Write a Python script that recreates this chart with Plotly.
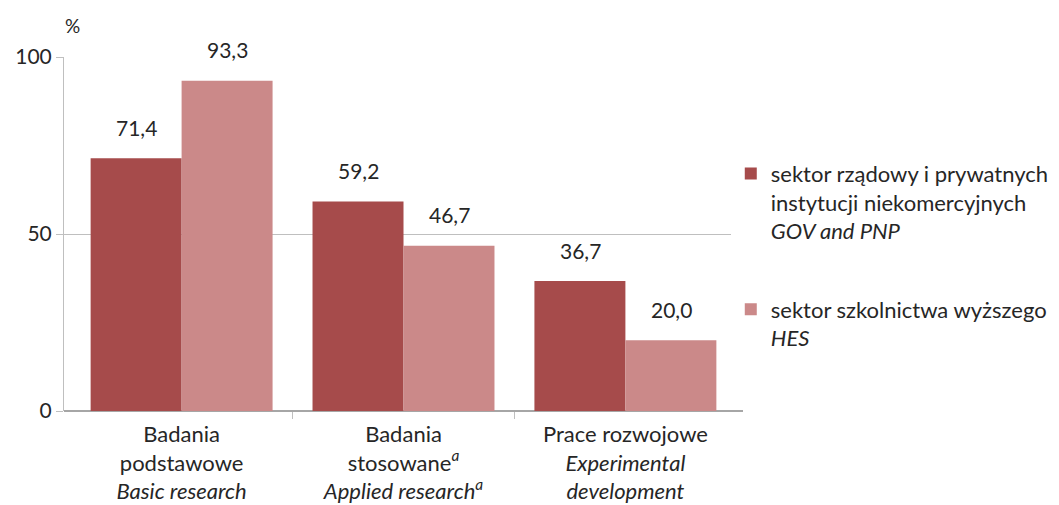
import plotly.graph_objects as go

categories = ["Badania<br>podstawowe<br><i>Basic research</i>",
              "Badania<br>stosowane<sup><i>a</i></sup><br><i>Applied research<sup>a</sup></i>",
              "Prace rozwojowe<br><i>Experimental</i><br><i>development</i>"]
series_names = ["sektor rządowy i prywatnych<br>instytucji niekomercyjnych<br><i>GOV and PNP</i>",
                "sektor szkolnictwa wyższego<br><i>HES</i>"]
gov_values = [71.4, 59.2, 36.7]
hes_values = [93.3, 46.7, 20.0]
colors = ["#A64B4B", "#CB8989"]
FONT = "Lato"
FS = 22

fig = go.Figure()
for k, (name, vals, col) in enumerate(zip(series_names, [gov_values, hes_values], colors)):
    fig.add_trace(go.Bar(
        x=list(range(3)), y=vals, name=name, marker_color=col, marker_line_width=0,
        legendgroup=f"g{k}",
    ))

# data labels above bars
for vals, shift in [(gov_values, -45), (hes_values, 46)]:
    for j, v in enumerate(vals):
        fig.add_annotation(x=j, y=v, xshift=shift, yshift=31, text=f"{v:.1f}".replace(".", ","),
                           showarrow=False, font=dict(size=FS - 1, color="#262626", family=FONT),
                           yanchor="middle")

fig.add_annotation(x=0, xref="paper", xshift=8, xanchor="center", y=1, yref="paper", yshift=32,
                   yanchor="middle", text="%",
                   showarrow=False, font=dict(size=FS - 3, color="#262626", family=FONT))

fig.update_layout(
    width=1059, height=505,
    margin=dict(l=64, r=316, t=57, b=94, autoexpand=False),
    plot_bgcolor="white", paper_bgcolor="white",
    barmode="group", bargap=0.18, bargroupgap=0,
    separators=", ",
    font=dict(family=FONT, size=FS, color="#262626"),
    showlegend=True,
    legend=dict(x=0.982, xanchor="left", y=0.73, yanchor="top", valign="top",
                tracegroupgap=47, font=dict(size=FS, family=FONT), itemwidth=30),
    xaxis=dict(tickmode="array", tickvals=list(range(3)), ticktext=categories, automargin=False,
               range=[-0.53, 2.53], showline=False, ticks="", showgrid=False, tickfont=dict(size=FS),
               ticklabelstandoff=8),
    yaxis=dict(range=[0, 100], tickvals=[0, 50, 100], showgrid=True, gridcolor="#BFBFBF",
               gridwidth=1, showline=True, linecolor="#BFBFBF", ticks="outside", ticklen=7,
               tickcolor="#BFBFBF", zeroline=True, zerolinecolor="#A6A6A6", zerolinewidth=1.5,
               tickfont=dict(size=FS - 1), automargin=False),
)
# category divider ticks on x axis
fig.update_xaxes(minor=dict(tickvals=[0.5, 1.5], ticks="outside", ticklen=7, tickcolor="#BFBFBF"))

fig.write_html("out.html", post_script="document.body.style.margin='0';",
               config={"displayModeBar": False})
